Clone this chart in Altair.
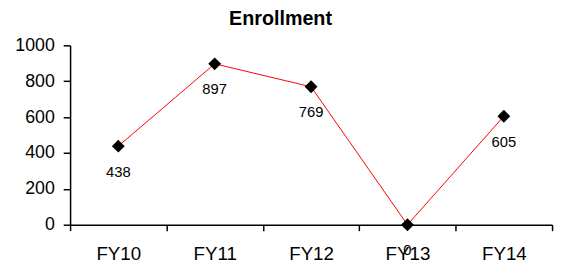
import altair as alt
import pandas as pd

categories = ["FY10", "FY11", "FY12", "FY13", "FY14"]
values = [438, 897, 769, 0, 605]
labels = ["438", "897", "769", "0", "605"]

df = pd.DataFrame({"year": categories, "value": values, "label": labels})

x = alt.X("year:N", sort=categories, title=None,
          scale=alt.Scale(paddingInner=0, paddingOuter=0),
          axis=alt.Axis(labelAngle=0, tickBand="extent", labelFont="Liberation Sans",
                        labelFontSize=19, labelColor="black", labelPadding=14,
                        tickSize=6, tickColor="black", domainColor="black",
                        domainWidth=1.5, tickWidth=1.5, grid=False))
y = alt.Y("value:Q", title=None,
          scale=alt.Scale(domain=[0, 1000], nice=False),
          axis=alt.Axis(values=[0, 200, 400, 600, 800, 1000], format="d",
                        labelFont="Liberation Sans",
                        labelFontSize=18, labelColor="black", labelPadding=9,
                        tickSize=7, tickColor="black", domainColor="black",
                        domainWidth=1.5, tickWidth=1.5, grid=False))

base = alt.Chart(df)
line = base.mark_line(color="#ff0000", strokeWidth=1).encode(x=x, y=y)
pts = base.mark_point(shape="diamond", filled=True, color="black", size=170, opacity=1).encode(x=x, y=y)
txt = base.mark_text(dy=26, font="Liberation Sans", fontSize=15, color="black").encode(
    x=x, y=y, text="label:N")

chart = alt.layer(line, pts, txt).properties(
    width=489, height=182,
    autosize=alt.AutoSizeParams(type="none"),
    padding={"left": 63, "top": 36, "right": 4, "bottom": 41},
    title=alt.TitleParams("Enrollment", font="Liberation Sans", fontSize=20, fontWeight="bold",
                          color="black", anchor="middle", dx=-31, offset=8),
).configure_view(stroke=None)

chart.save("out.html", embed_options={"renderer": "svg", "actions": False})
